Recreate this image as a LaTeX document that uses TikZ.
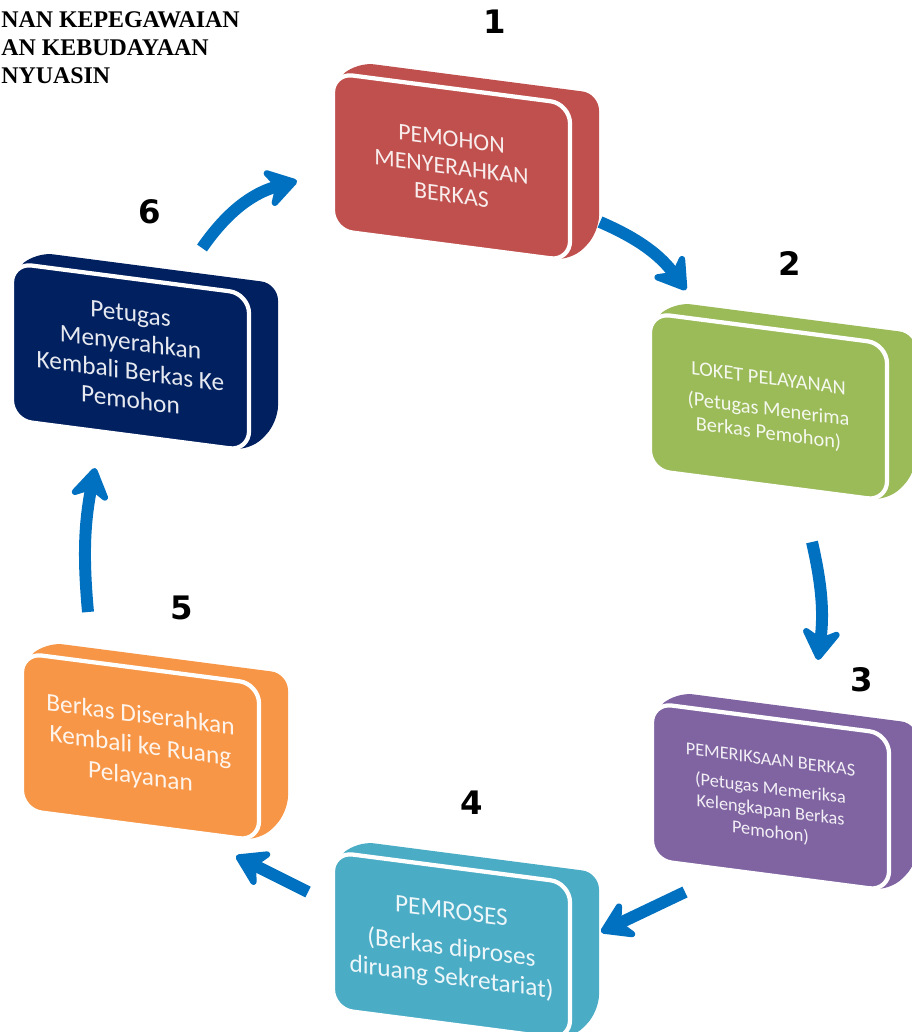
\documentclass[tikz,border=0pt]{standalone}
\usepackage{fontspec}
\setmainfont{Carlito}
\newfontfamily\headfont{Liberation Serif}
\newfontfamily\numfont{DejaVu Sans}
\usetikzlibrary{arrows.meta}
\definecolor{boxred}{HTML}{C0504D}
\definecolor{boxgreen}{HTML}{9BBB59}
\definecolor{boxpurple}{HTML}{8064A2}
\definecolor{boxteal}{HTML}{4BACC6}
\definecolor{boxorange}{HTML}{F79646}
\definecolor{boxnavy}{HTML}{002060}
\definecolor{flowblue}{HTML}{0070C0}

\begin{document}
\begin{tikzpicture}[
  x=0.025cm,y=-0.025cm,
  flow/.style={draw=flowblue,line width=8.5pt,
    -{Stealth[length=27pt,width=34pt,inset=9pt,round]}},
  face/.style={draw=white,line width=3pt,rounded corners=14pt,
    minimum width=5.925cm,minimum height=3.925cm,inner sep=2pt,
    align=center,text=white,text opacity=0.9,transform shape},
  slab/.pic={\fill[rounded corners=12pt] (0,10) -- (24,-14) -- (266,-14)
    -- (266,125) -- (238,157) -- (0,157) -- cycle;},
  stepnum/.style={font=\numfont\bfseries\fontsize{23}{25}\selectfont},
  headline/.style={font=\headfont\bfseries\fontsize{17}{20}\selectfont,
    align=left,inner sep=0pt,anchor=north west}
]
\useasboundingbox (0,0) rectangle (912,1032);

\node[headline] (head) at (1,11) {NAN KEPEGAWAIAN\\AN KEBUDAYAAN\\NYUASIN};

% the six slanted tiles, clockwise from the top
\begin{scope}[shift={(333,73)},yslant=-0.13]
  \pic[boxred,transform shape] {slab};
  \node[face,fill=boxred,font=\fontsize{17}{20}\selectfont] (b1) at (118.5,78.5)
    {PEMOHON\\MENYERAHKAN\\BERKAS};
\end{scope}
\begin{scope}[shift={(650,313)},yslant=-0.13]
  \pic[boxgreen,transform shape] {slab};
  \node[face,fill=boxgreen,font=\fontsize{14.5}{17}\selectfont] (b2) at (118.5,78.5)
    {LOKET PELAYANAN\\[5pt](Petugas Menerima\\Berkas Pemohon)};
\end{scope}
\begin{scope}[shift={(652,703)},yslant=-0.13]
  \pic[boxpurple,transform shape] {slab};
  \node[face,fill=boxpurple,font=\fontsize{13}{15.5}\selectfont] (b3) at (118.5,78.5)
    {PEMERIKSAAN BERKAS\\[5pt](Petugas Memeriksa\\Kelengkapan Berkas\\Pemohon)};
\end{scope}
\begin{scope}[shift={(333,852)},yslant=-0.13]
  \pic[boxteal,transform shape] {slab};
  \node[face,fill=boxteal,font=\fontsize{18}{21}\selectfont] (b4) at (118.5,78.5)
    {PEMROSES\\[5pt](Berkas diproses\\diruang Sekretariat)};
\end{scope}
\begin{scope}[shift={(22,653)},yslant=-0.13]
  \pic[boxorange,transform shape] {slab};
  \node[face,fill=boxorange,font=\fontsize{18}{22}\selectfont] (b5) at (118.5,78.5)
    {Berkas Diserahkan\\Kembali ke Ruang\\Pelayanan};
\end{scope}
\begin{scope}[shift={(12,263)},yslant=-0.13]
  \pic[boxnavy,transform shape] {slab};
  \node[face,fill=boxnavy,font=\fontsize{18}{20.5}\selectfont] (b6) at (118.5,78.5)
    {Petugas\\Menyerahkan\\Kembali Berkas Ke\\Pemohon};
\end{scope}

\node[stepnum] (n1) at (495,22) {1};
\node[stepnum] (n2) at (790,263) {2};
\node[stepnum] (n3) at (862,680) {3};
\node[stepnum] (n4) at (472,803) {4};
\node[stepnum] (n5) at (182,608) {5};
\node[stepnum] (n6) at (150,212) {6};

% arrow ends between the tiles
\coordinate (out6) at (202,248); \coordinate (in1) at (297,181);
\coordinate (out1) at (600,222); \coordinate (in2) at (686,290);
\coordinate (out2) at (812,542); \coordinate (in3) at (818,660);
\coordinate (out3) at (685,892); \coordinate (in4) at (601,932);
\coordinate (out4) at (308,892); \coordinate (in5) at (236,856);
\coordinate (out5) at (88,612);  \coordinate (in6) at (95,468);

\draw[flow] (out6) to[bend left=20] (in1);
\draw[flow] (out1) to[bend left=15] (in2);
\draw[flow] (out2) to[bend left=10] (in3);
\draw[flow] (out3) -- (in4);
\draw[flow] (out4) -- (in5);
\draw[flow] (out5) to[bend left=8] (in6);
\end{tikzpicture}
\end{document}
